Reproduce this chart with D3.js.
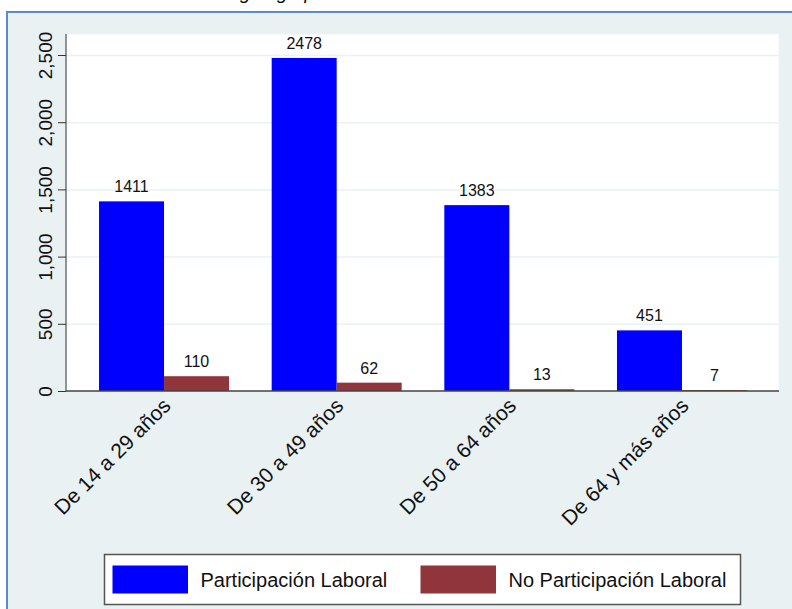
<!DOCTYPE html>
<meta charset="utf-8">
<style>
  body { margin: 0; background: #fff; }
  text { font-family: "Liberation Sans", Arial, sans-serif; }
</style>
<svg width="792" height="609"></svg>
<script src="https://cdn.jsdelivr.net/npm/d3@7"></script>
<script>

// data
var grupos = ["De 14 a 29 años", "De 30 a 49 años", "De 50 a 64 años", "De 64 y más años"];
var participa = [1411, 2478, 1383, 451];
var noParticipa = [110, 62, 13, 7];
var series = ["Participación Laboral", "No Participación Laboral"];
var colores = ["#0000ff", "#90353b"];
var yTicks = [0, 500, 1000, 1500, 2000, 2500];

var svg = d3.select("svg");

// title, mostly cut off at the top of the picture
var title = svg.append("text")
    .attr("y", -1)
    .style("font-size", "19px")
    .style("font-style", "italic")
    .text("Condición de actividad según grupos de edad");
var pre = svg.append("text").style("font-size", "19px").style("font-style", "italic")
    .text("Condición de actividad se");
var preW = pre.node().getComputedTextLength();
pre.remove();
title.attr("x", 240 - preW);

// graph region
svg.append("rect")
    .attr("x", 7).attr("y", 12)
    .attr("width", 800).attr("height", 610)
    .attr("fill", "#e9f1f3")
    .attr("stroke", "#5b8bc9")
    .attr("stroke-width", 2);

var plot = {left: 66, right: 779, top: 34, bottom: 391};

svg.append("rect")
    .attr("x", plot.left).attr("y", plot.top)
    .attr("width", plot.right - plot.left).attr("height", plot.bottom - plot.top)
    .attr("fill", "#fff")
    .attr("stroke", "#eef4f5");

var y = d3.scaleLinear().domain([0, 2500]).range([plot.bottom, 55]);

var x0 = d3.scaleBand().domain(grupos)
    .range([77.7, 768.3])
    .paddingInner(0.247)
    .paddingOuter(0.1235);
var x1 = d3.scaleBand().domain(series).range([0, x0.bandwidth()]);

// gridlines
svg.append("g")
    .attr("transform", "translate(" + plot.left + ",0)")
    .call(d3.axisLeft(y).tickValues(yTicks.slice(1)).tickSize(-(plot.right - plot.left)).tickFormat(""))
    .call(function(g) {
      g.select(".domain").remove();
      g.selectAll("line").attr("stroke", "#eaf2f4").attr("stroke-width", 1.5);
    });

// bars
var rows = grupos.map(function(d, i) {
  return {grupo: d, vals: [participa[i], noParticipa[i]]};
});

var grp = svg.selectAll(".grupo")
    .data(rows)
  .enter().append("g")
    .attr("class", "grupo")
    .attr("transform", function(d) { return "translate(" + x0(d.grupo) + ",0)"; });

grp.selectAll("rect")
    .data(function(d) { return d.vals; })
  .enter().append("rect")
    .attr("x", function(d, i) { return x1(series[i]); })
    .attr("y", function(d) { return y(d); })
    .attr("width", x1.bandwidth())
    .attr("height", function(d) { return plot.bottom - y(d); })
    .attr("fill", function(d, i) { return colores[i]; });

grp.selectAll(".lbl")
    .data(function(d) { return d.vals; })
  .enter().append("text")
    .attr("class", "lbl")
    .attr("x", function(d, i) { return x1(series[i]) + x1.bandwidth() / 2; })
    .attr("y", function(d) { return y(d) - 9; })
    .attr("text-anchor", "middle")
    .style("font-size", "16px")
    .attr("fill", "#111")
    .text(function(d) { return d; });

// y axis
svg.append("g")
    .attr("transform", "translate(" + plot.left + ",0)")
    .call(d3.axisLeft(y).tickValues(yTicks).tickSize(8).tickFormat(d3.format(",")))
    .call(function(g) {
      g.select(".domain").attr("d", "M0," + plot.top + "V" + plot.bottom).attr("stroke", "#333");
      g.selectAll("line").attr("stroke", "#333");
      g.selectAll("text")
          .attr("transform", "rotate(-90)")
          .attr("x", 0).attr("y", -14.5).attr("dy", 0)
          .attr("text-anchor", "middle")
          .attr("fill", "#111")
          .style("font-size", "19px")
          .style("font-family", "'Liberation Sans', Arial, sans-serif");
    });

// x axis
svg.append("g")
    .attr("transform", "translate(0," + plot.bottom + ")")
    .call(d3.axisBottom(x0).tickSize(0))
    .call(function(g) {
      g.select(".domain").attr("d", "M" + plot.left + ",0H" + plot.right)
          .attr("stroke", "#444").attr("stroke-width", 1.5);
      g.selectAll("text")
          .attr("x", 0).attr("y", 0).attr("dy", 0)
          .attr("text-anchor", "end")
          .attr("transform", "translate(8,16) rotate(-45)")
          .attr("fill", "#111")
          .style("font-size", "21px")
          .style("font-family", "'Liberation Sans', Arial, sans-serif");
    });

// legend
var leg = svg.append("g");
leg.append("rect")
    .attr("x", 104.5).attr("y", 554.5)
    .attr("width", 636).attr("height", 50)
    .attr("fill", "#fff")
    .attr("stroke", "#555")
    .attr("stroke-width", 1.5);

var legX = [112.5, 420.5];
series.forEach(function(s, i) {
  leg.append("rect")
      .attr("x", legX[i]).attr("y", 565.5)
      .attr("width", 75.5).attr("height", 28)
      .attr("fill", colores[i]);
  leg.append("text")
      .attr("x", legX[i] + 88).attr("y", 586.5)
      .style("font-size", "20px")
      .attr("fill", "#111")
      .text(s);
});

</script>
